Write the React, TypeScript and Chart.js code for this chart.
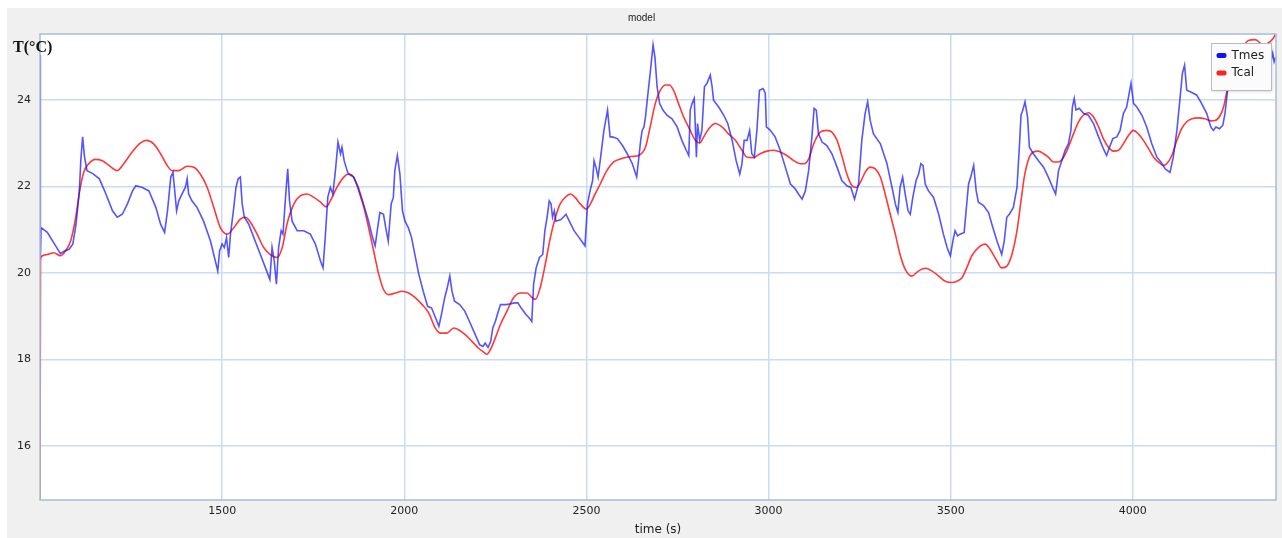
import React, { useEffect, useRef } from 'react';
import { Chart, registerables } from 'chart.js';

Chart.register(...registerables);

const chartTitle = 'model';
const xAxisTitle = 'time (s)';
const yAxisTitle = 'T(°C)';
const seriesNames = ['Tmes', 'Tcal'];
const seriesColors = ['rgba(20,20,255,0.72)', 'rgba(255,28,28,0.88)'];
const legendColors = ['#1010ff', '#ff2020'];
const xTicks = [1500, 2000, 2500, 3000, 3500, 4000];
const yTicks = [16, 18, 20, 22, 24];
const xMin = 1000;
const xMax = 4393;
const yMin = 14.75;
const yMax = 25.53;

// [time (s), temperature (°C)]
const tmesSamples: [number, number][] = [
  [1000,25.05],[1001,20.3],[1003,21.05],[1020,20.94],[1040,20.67],[1056,20.45],[1067,20.51],[1080,20.55],[1090,20.67],[1099,21.13],[1108,21.9],[1112,22.6],[1117,23.15],[1122,22.7],[1129,22.37],[1145,22.3],[1163,22.18],[1181,21.83],[1199,21.44],[1212,21.29],[1226,21.36],[1240,21.6],[1254,21.9],[1263,22.02],[1281,21.98],[1299,21.9],[1318,21.52],[1331,21.13],[1342,20.94],[1350,21.44],[1359,22.22],[1365,22.33],[1369,21.98],[1375,21.44],[1381,21.67],[1390,21.83],[1399,21.98],[1404,22.18],[1408,21.83],[1417,21.67],[1431,21.52],[1449,21.2],[1468,20.74],[1479,20.36],[1488,20.05],[1493,20.51],[1500,20.67],[1506,20.59],[1512,20.82],[1518,20.36],[1523,20.9],[1532,21.52],[1538,21.98],[1544,22.18],[1550,22.22],[1555,21.6],[1561,21.29],[1573,21.13],[1587,20.82],[1605,20.43],[1619,20.12],[1631,19.85],[1637,20.59],[1643,20.28],[1649,19.74],[1655,20.59],[1662,20.98],[1667,20.9],[1674,21.75],[1680,22.41],[1685,21.67],[1692,21.2],[1706,20.98],[1724,20.98],[1742,20.9],[1756,20.67],[1770,20.28],[1777,20.12],[1783,20.82],[1790,21.75],[1797,21.98],[1804,21.83],[1811,22.37],[1818,23.03],[1825,22.76],[1829,22.91],[1835,22.6],[1843,22.37],[1847,22.29],[1861,22.22],[1874,21.98],[1888,21.6],[1902,21.2],[1913,20.82],[1920,20.63],[1927,21.05],[1933,21.4],[1943,21.36],[1949,21.05],[1956,20.74],[1964,21.6],[1970,21.75],[1974,22.37],[1981,22.72],[1988,22.29],[1995,21.44],[2002,21.2],[2011,21.05],[2020,20.82],[2029,20.43],[2040,19.97],[2052,19.58],[2064,19.23],[2075,19.19],[2086,18.96],[2095,18.77],[2102,19.04],[2111,19.43],[2118,19.66],[2125,19.93],[2131,19.58],[2138,19.35],[2152,19.27],[2166,19.12],[2179,18.88],[2193,18.61],[2207,18.34],[2216,18.3],[2222,18.38],[2230,18.28],[2237,18.41],[2243,18.73],[2250,18.88],[2257,19.08],[2264,19.27],[2280,19.27],[2293,19.29],[2302,19.31],[2312,19.31],[2321,19.19],[2334,19.04],[2343,18.96],[2350,18.88],[2355,19.74],[2362,20.12],[2371,20.36],[2380,20.43],[2386,20.98],[2392,21.29],[2398,21.67],[2403,21.6],[2407,21.29],[2412,21.44],[2416,21.2],[2430,21.24],[2444,21.36],[2453,21.2],[2466,20.98],[2480,20.82],[2496,20.63],[2503,21.6],[2510,21.9],[2517,22.14],[2521,22.6],[2526,22.45],[2532,22.22],[2539,22.68],[2548,23.3],[2558,23.77],[2565,23.15],[2571,23.15],[2585,23.11],[2599,22.95],[2612,22.76],[2626,22.53],[2638,22.22],[2644,22.68],[2649,23.07],[2653,23.3],[2658,23.38],[2662,23.6],[2668,24.08],[2675,24.62],[2683,25.28],[2688,25.0],[2694,24.31],[2701,23.92],[2710,23.77],[2721,23.65],[2735,23.57],[2749,23.38],[2762,23.07],[2774,22.84],[2781,22.72],[2785,23.77],[2790,23.92],[2796,24.04],[2802,22.68],[2805,23.46],[2811,23.07],[2817,23.3],[2824,24.31],[2831,24.39],[2840,24.58],[2845,24.31],[2849,24.0],[2863,23.84],[2877,23.65],[2888,23.46],[2900,23.07],[2911,22.6],[2921,22.29],[2927,22.53],[2933,23.07],[2941,23.07],[2948,23.3],[2954,22.76],[2961,22.68],[2968,23.3],[2975,24.23],[2985,24.27],[2991,24.16],[2994,23.38],[3005,23.3],[3018,23.15],[3032,22.84],[3046,22.45],[3060,22.06],[3073,21.95],[3082,21.83],[3092,21.71],[3101,21.9],[3110,22.37],[3119,23.15],[3125,23.81],[3131,23.77],[3137,23.22],[3147,23.03],[3160,22.95],[3174,22.76],[3188,22.45],[3201,22.14],[3215,22.02],[3226,21.98],[3236,21.71],[3247,22.06],[3256,23.07],[3265,23.69],[3272,23.96],[3279,23.53],[3288,23.22],[3307,22.99],[3325,22.53],[3339,21.98],[3348,21.6],[3355,21.4],[3361,21.98],[3368,22.22],[3375,21.83],[3383,21.44],[3389,21.36],[3396,21.75],[3405,22.14],[3412,22.29],[3418,22.53],[3424,22.49],[3430,22.06],[3439,21.9],[3453,21.75],[3467,21.36],[3480,20.9],[3490,20.59],[3499,20.4],[3506,20.74],[3512,20.98],[3519,20.86],[3526,20.9],[3537,20.94],[3544,21.6],[3549,22.06],[3555,22.22],[3563,22.49],[3570,21.9],[3576,21.64],[3590,21.56],[3604,21.4],[3613,21.13],[3627,20.74],[3640,20.43],[3647,20.74],[3654,21.29],[3661,21.36],[3672,21.52],[3682,21.98],[3689,22.99],[3693,23.65],[3698,23.77],[3704,23.96],[3711,23.61],[3716,22.91],[3727,22.76],[3741,22.6],[3755,22.45],[3768,22.22],[3780,21.98],[3788,21.83],[3796,22.37],[3805,22.6],[3814,22.84],[3823,22.99],[3830,23.3],[3834,23.84],[3839,24.04],[3844,23.77],[3853,23.81],[3865,23.69],[3878,23.65],[3892,23.46],[3906,23.15],[3919,22.88],[3928,22.72],[3936,22.91],[3945,23.11],[3956,23.15],[3965,23.3],[3974,23.69],[3983,23.84],[3990,24.16],[3995,24.39],[4002,23.92],[4011,23.84],[4025,23.65],[4038,23.38],[4052,22.99],[4066,22.68],[4077,22.57],[4089,22.41],[4102,22.33],[4111,22.68],[4121,23.3],[4130,24.08],[4136,24.62],[4142,24.81],[4148,24.23],[4159,24.19],[4175,24.12],[4189,23.92],[4203,23.69],[4214,23.38],[4221,23.3],[4228,23.38],[4238,23.34],[4247,23.42],[4253,23.69],[4260,24.23],[4276,24.6],[4304,24.75],[4349,24.8],[4378,24.85],[4384,25.08],[4388,24.89],[4393,25.0]
];

const tcalSamples: [number, number][] = [
  [1000,14.6],[1001.5,20.36],[1020,20.43],[1038,20.47],[1056,20.4],[1070,20.51],[1084,20.74],[1098,21.29],[1109,21.9],[1120,22.33],[1134,22.53],[1152,22.63],[1171,22.6],[1189,22.49],[1212,22.37],[1230,22.53],[1253,22.8],[1276,23.01],[1292,23.07],[1312,22.99],[1331,22.76],[1349,22.49],[1363,22.37],[1381,22.37],[1404,22.47],[1422,22.45],[1440,22.29],[1459,21.98],[1477,21.52],[1495,21.05],[1514,20.9],[1532,21.05],[1550,21.25],[1564,21.29],[1578,21.17],[1596,20.9],[1614,20.59],[1633,20.42],[1651,20.36],[1665,20.59],[1678,21.13],[1697,21.6],[1715,21.79],[1733,21.83],[1752,21.75],[1770,21.64],[1786,21.53],[1797,21.67],[1815,21.98],[1834,22.22],[1847,22.29],[1861,22.22],[1875,21.9],[1889,21.52],[1902,21.05],[1916,20.51],[1930,19.97],[1943,19.62],[1957,19.5],[1976,19.54],[1994,19.58],[2012,19.54],[2030,19.43],[2049,19.27],[2067,19.08],[2085,18.73],[2099,18.61],[2117,18.61],[2136,18.73],[2149,18.69],[2168,18.57],[2186,18.42],[2204,18.26],[2218,18.17],[2227,18.12],[2236,18.22],[2250,18.5],[2264,18.81],[2282,19.12],[2300,19.43],[2319,19.54],[2337,19.54],[2351,19.43],[2360,19.39],[2373,19.66],[2387,20.2],[2401,20.82],[2415,21.29],[2428,21.6],[2442,21.75],[2456,21.83],[2469,21.75],[2483,21.6],[2500,21.48],[2511,21.6],[2524,21.83],[2538,22.06],[2556,22.37],[2575,22.57],[2593,22.64],[2611,22.68],[2630,22.7],[2643,22.72],[2662,22.91],[2675,23.38],[2689,23.92],[2703,24.23],[2717,24.35],[2728,24.35],[2739,24.23],[2753,23.92],[2767,23.61],[2785,23.3],[2799,23.07],[2811,23.01],[2822,23.15],[2836,23.34],[2854,23.46],[2872,23.38],[2890,23.22],[2909,23.07],[2927,22.84],[2941,22.68],[2959,22.67],[2977,22.76],[2996,22.82],[3014,22.84],[3032,22.8],[3050,22.72],[3069,22.6],[3087,22.53],[3098,22.53],[3110,22.64],[3124,22.99],[3142,23.26],[3160,23.3],[3174,23.26],[3188,23.07],[3201,22.72],[3215,22.29],[3229,22.02],[3241,21.98],[3252,22.1],[3265,22.33],[3279,22.45],[3293,22.41],[3307,22.22],[3320,21.83],[3334,21.36],[3348,20.9],[3361,20.43],[3375,20.09],[3393,19.93],[3412,20.05],[3430,20.11],[3448,20.05],[3467,19.93],[3485,19.81],[3503,19.78],[3517,19.81],[3531,19.89],[3544,20.12],[3558,20.4],[3576,20.59],[3595,20.67],[3608,20.55],[3627,20.28],[3640,20.12],[3654,20.16],[3668,20.43],[3682,20.98],[3693,21.67],[3702,22.22],[3714,22.64],[3727,22.8],[3741,22.82],[3755,22.76],[3768,22.68],[3782,22.57],[3796,22.57],[3810,22.68],[3823,22.91],[3837,23.22],[3851,23.5],[3864,23.65],[3878,23.71],[3892,23.61],[3906,23.38],[3919,23.11],[3933,22.91],[3947,22.82],[3961,22.84],[3974,22.99],[3988,23.18],[4002,23.3],[4015,23.22],[4029,23.07],[4043,22.88],[4057,22.68],[4070,22.57],[4084,22.49],[4093,22.53],[4107,22.72],[4121,23.07],[4134,23.34],[4148,23.5],[4162,23.57],[4180,23.59],[4198,23.57],[4214,23.52],[4226,23.53],[4240,23.65],[4249,23.84],[4258,24.19],[4265,24.46],[4285,24.9],[4304,25.24],[4317,25.38],[4336,25.4],[4358,25.28],[4378,25.36],[4390,25.5],[4395,25.62]
];

const overlayPlugin = {
  id: 'overlay',
  beforeDraw(chart: any) {
    const { ctx, chartArea: a } = chart;
    ctx.save();
    ctx.fillStyle = '#ffffff';
    ctx.fillRect(a.left, a.top, a.right - a.left, a.bottom - a.top);
    ctx.restore();
  },
  afterDraw(chart: any) {
    const { ctx, chartArea: a } = chart;
    ctx.save();
    // plot frame
    ctx.strokeStyle = '#a9bdd2';
    ctx.lineWidth = 1.5;
    ctx.strokeRect(a.left, a.top, a.right - a.left, a.bottom - a.top);

    // legend inside plot, top-right
    const lx = a.right - 64.5;
    const ly = a.top + 9.5;
    const lw = 60;
    const lh = 47;
    ctx.shadowColor = 'rgba(0,0,0,0.18)';
    ctx.shadowBlur = 3;
    ctx.shadowOffsetX = 1;
    ctx.shadowOffsetY = 1;
    ctx.fillStyle = '#fbfbfb';
    ctx.fillRect(lx, ly, lw, lh);
    ctx.shadowColor = 'transparent';
    ctx.strokeStyle = '#b4bcc6';
    ctx.lineWidth = 1;
    ctx.strokeRect(lx, ly, lw, lh);
    ctx.font = '12px "DejaVu Sans"';
    ctx.textBaseline = 'middle';
    seriesNames.forEach((name, i) => {
      const cy = ly + 12 + i * 17.5;
      ctx.fillStyle = legendColors[i];
      ctx.beginPath();
      if ((ctx as any).roundRect) (ctx as any).roundRect(lx + 5, cy - 2.5, 10, 5, 2);
      else ctx.rect(lx + 5, cy - 2.5, 10, 5);
      ctx.fill();
      ctx.fillStyle = '#222';
      ctx.fillText(name, lx + 20, cy);
    });

    // y axis title at top-left
    ctx.font = 'bold 16px "Liberation Serif"';
    ctx.textBaseline = 'alphabetic';
    ctx.fillStyle = '#111';
    ctx.fillText(yAxisTitle, 6, a.top + 17.5);
    ctx.restore();
  },
};

export default function App() {
  const ref = useRef<HTMLCanvasElement>(null);

  useEffect(() => {
    if (!ref.current) return;
    const chart = new Chart(ref.current, {
      type: 'line',
      data: {
        datasets: [
          {
            label: seriesNames[0],
            data: tmesSamples.map(([x, y]) => ({ x, y })),
            borderColor: seriesColors[0],
            backgroundColor: seriesColors[0],
            borderWidth: 1.6,
            pointRadius: 0,
            tension: 0,
            clip: 0,
          },
          {
            label: seriesNames[1],
            data: tcalSamples.map(([x, y]) => ({ x, y })),
            borderColor: seriesColors[1],
            backgroundColor: seriesColors[1],
            borderWidth: 1.6,
            pointRadius: 0,
            cubicInterpolationMode: 'monotone',
            clip: 0,
          },
        ],
      } as any,
      options: {
        responsive: false,
        animation: false,
        devicePixelRatio: 1,
        layout: { padding: { left: 0, right: 6, top: 0, bottom: 0 } },
        plugins: {
          legend: { display: false },
          tooltip: { enabled: false },
          title: {
            display: true,
            text: chartTitle,
            color: '#222',
            font: { family: 'Liberation Sans', size: 10, weight: 'normal', lineHeight: 1.2 },
            padding: { top: 4, bottom: 10 },
          },
        },
        scales: {
          x: {
            type: 'linear',
            min: xMin,
            max: xMax,
            afterBuildTicks: (s: any) => {
              s.ticks = xTicks.map((v) => ({ value: v }));
            },
            afterFit: (s: any) => {
              s.height = 38;
            },
            ticks: {
              color: '#222',
              font: { family: 'DejaVu Sans', size: 11 },
              padding: 5,
              maxRotation: 0,
              autoSkip: false,
              callback: (v: any) => String(v),
            },
            grid: { color: '#c9dcf3', lineWidth: 1.5, drawTicks: false },
            border: { display: false },
            title: {
              display: true,
              text: xAxisTitle,
              color: '#222',
              font: { family: 'DejaVu Sans', size: 12 },
              padding: { top: 0, bottom: 1 },
            },
          },
          y: {
            type: 'linear',
            min: yMin,
            max: yMax,
            afterBuildTicks: (s: any) => {
              s.ticks = yTicks.map((v) => ({ value: v }));
            },
            afterFit: (s: any) => {
              s.width = 33;
            },
            ticks: {
              color: '#222',
              font: { family: 'DejaVu Sans', size: 11 },
              padding: 9,
              callback: (v: any) => String(v),
            },
            grid: { color: '#c9dcf3', lineWidth: 1.5, drawTicks: false },
            border: { display: false },
          },
        },
      } as any,
      plugins: [overlayPlugin],
    });
    return () => chart.destroy();
  }, []);

  return (
    <div
      style={{
        position: 'fixed',
        left: 7,
        top: 8,
        width: 1275,
        height: 530,
        background: '#f0f0f0',
      }}
    >
      <canvas ref={ref} width={1275} height={530} style={{ display: 'block', width: 1275, height: 530 }} />
    </div>
  );
}
